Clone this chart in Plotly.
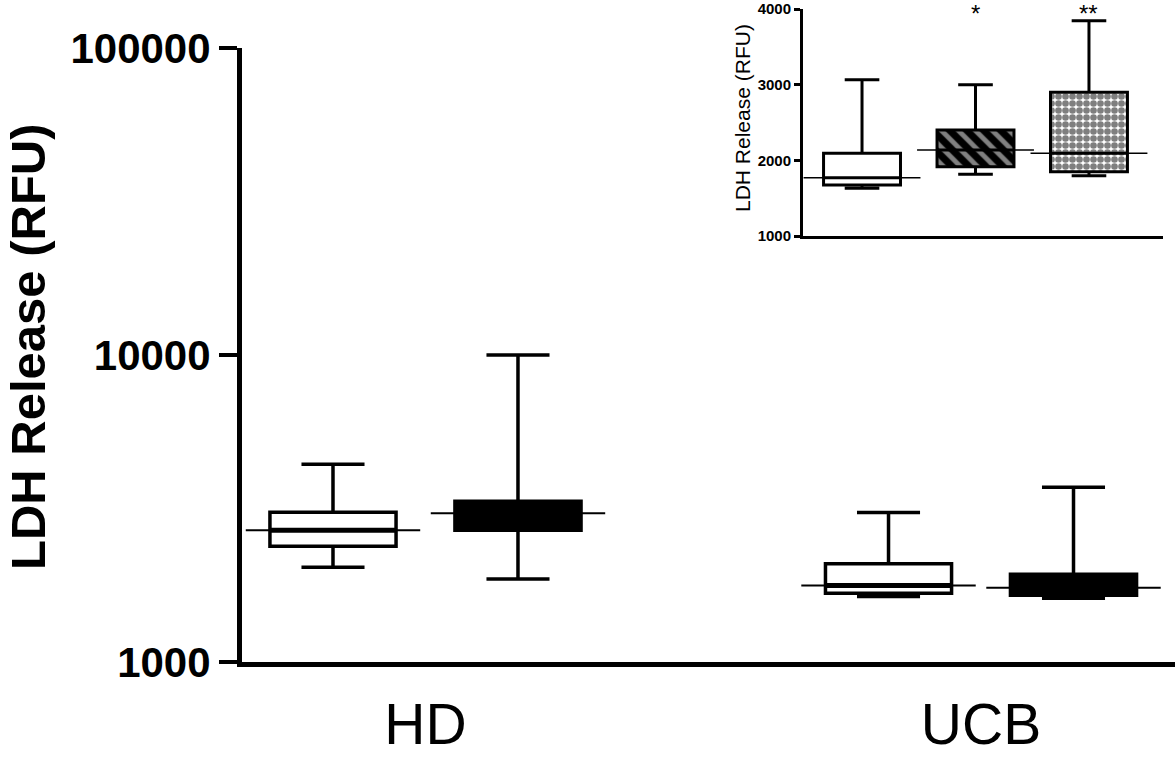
import plotly.graph_objects as go

# ---------------- data ----------------
groups = ["HD", "UCB"]

white_upper = [4405, 3070]
white_q3 = [3074, 2090]
white_median = [2688, 1775]
white_q1 = [2384, 1675]
white_lower = [2037, 1635]

black_upper = [10000, 3708]
black_q3 = [3339, 1933]
black_median = [3052, 1745]
black_q1 = [2688, 1650]
black_lower = [1862, 1612]

main_tickvals = [1000, 10000, 100000]
main_ticktext = ["1000", "10000", "100000"]
y_title = "LDH Release (RFU)"

inset_upper = [3065, 3000, 3846]
inset_q3 = [2093, 2401, 2899]
inset_median = [1771, 2137, 2093]
inset_q1 = [1674, 1916, 1850]
inset_lower = [1630, 1815, 1797]
inset_stars = ["", "*", "**"]
inset_tickvals = [1000, 2000, 3000, 4000]

# ---------------- layout constants ----------------
FONT = "Liberation Sans, Arial, sans-serif"
offset = 0.1665
box_w = 0.227
thin_half = 0.157
inset_box_w = 0.678
inset_thin_half = 0.515

fig = go.Figure()

main_series = [
    (white_upper, white_q3, white_median, white_q1, white_lower, "white", -offset),
    (black_upper, black_q3, black_median, black_q1, black_lower, "black", offset),
]

for up, q3, med, q1, lo, fill, off in main_series:
    xs = [i + off for i in range(len(groups))]
    fig.add_trace(go.Box(
        x=xs, q1=q1, median=med, q3=q3, lowerfence=lo, upperfence=up,
        width=box_w, whiskerwidth=0.5, fillcolor=fill,
        line=dict(color="black", width=3.5), boxpoints=False,
        xaxis="x", yaxis="y", hoverinfo="skip"))
    mx, my = [], []
    tx, ty = [], []
    for x, m in zip(xs, med):
        mx += [x - box_w / 2, x + box_w / 2, None]
        my += [m, m, None]
        tx += [x - thin_half, x + thin_half, None]
        ty += [m, m, None]
    fig.add_trace(go.Scatter(x=mx, y=my, mode="lines",
                             line=dict(color="black", width=5),
                             xaxis="x", yaxis="y", hoverinfo="skip"))
    fig.add_trace(go.Scatter(x=tx, y=ty, mode="lines",
                             line=dict(color="black", width=2),
                             xaxis="x", yaxis="y", hoverinfo="skip"))

# ---------------- inset ----------------
inset_fills = ["white", "rgba(0,0,0,0)", "rgba(0,0,0,0)"]
inset_patterns = [
    None,
    dict(shape="\\", fgcolor="white", bgcolor="black", size=12, solidity=0.4),
    dict(shape=".", fgcolor="black", bgcolor="white", size=7, solidity=0.7),
]

for i in range(len(inset_q1)):
    if inset_patterns[i] is not None:
        fig.add_trace(go.Bar(
            x=[i], base=[inset_q1[i]], y=[inset_q3[i] - inset_q1[i]],
            width=inset_box_w,
            marker=dict(color="black", line=dict(width=0),
                        pattern=inset_patterns[i]),
            xaxis="x2", yaxis="y2", hoverinfo="skip"))

for i in range(len(inset_q1)):
    fig.add_trace(go.Box(
        x=[i], q1=[inset_q1[i]], median=[inset_median[i]], q3=[inset_q3[i]],
        lowerfence=[inset_lower[i]], upperfence=[inset_upper[i]],
        width=inset_box_w, whiskerwidth=0.45, fillcolor=inset_fills[i],
        line=dict(color="black", width=3), boxpoints=False,
        xaxis="x2", yaxis="y2", hoverinfo="skip"))

tx, ty = [], []
for i, m in enumerate(inset_median):
    tx += [i - inset_thin_half, i + inset_thin_half, None]
    ty += [m, m, None]
fig.add_trace(go.Scatter(x=tx, y=ty, mode="lines",
                         line=dict(color="black", width=1.5),
                         xaxis="x2", yaxis="y2", hoverinfo="skip"))

annotations = []
for i, s in enumerate(inset_stars):
    if s:
        annotations.append(dict(x=i, y=3940, xref="x2", yref="y2", text=s,
                                showarrow=False, xanchor="center", yanchor="middle",
                                font=dict(family=FONT, size=24, color="black")))

annotations.append(dict(x=-0.2294, y=0.4773, xref="paper", yref="paper",
                        text=y_title, textangle=-90, showarrow=False,
                        xanchor="center", yanchor="middle",
                        font=dict(family=FONT, size=49, color="black", weight="bold")))
annotations.append(dict(x=0.537, y=0.8218, xref="paper", yref="paper",
                        text=y_title, textangle=-90, showarrow=False,
                        xanchor="center", yanchor="middle",
                        font=dict(family=FONT, size=21, color="black")))

fig.update_layout(
    width=1175, height=762,
    margin=dict(l=242, r=0, t=0, b=100, autoexpand=False),
    paper_bgcolor="white", plot_bgcolor="rgba(0,0,0,0)",
    showlegend=False, barmode="overlay", boxmode="overlay",
    annotations=annotations,
    xaxis=dict(domain=[0, 1], range=[-0.3303, 1.3492], automargin=False,
               tickvals=list(range(len(groups))), ticktext=groups,
               ticks="", showline=True, linewidth=5, linecolor="black",
               showgrid=False, zeroline=False, ticklabelstandoff=9,
               tickfont=dict(family=FONT, size=57, color="black")),
    yaxis=dict(domain=[0, 0.9275], type="log", range=[3, 5], automargin=False,
               tickvals=main_tickvals, ticktext=main_ticktext,
               ticks="outside", ticklen=18, tickwidth=4, tickcolor="black",
               showline=True, linewidth=5, linecolor="black",
               showgrid=False, zeroline=False,
               tickfont=dict(family=FONT, size=42, color="black", weight="bold")),
    xaxis2=dict(domain=[0.6013, 0.9871], anchor="y2", range=[-0.52, 2.652],
                automargin=False,
                showticklabels=False, ticks="", showline=True, linewidth=3,
                linecolor="black", showgrid=False, zeroline=False),
    yaxis2=dict(domain=[0.6435, 0.9864], anchor="x2", range=[1000, 4000],
                automargin=False,
                tickvals=inset_tickvals, ticks="outside", ticklen=6, tickwidth=2.5,
                tickcolor="black", showline=True, linewidth=3, linecolor="black",
                showgrid=False, zeroline=False,
                tickfont=dict(family=FONT, size=15, color="black", weight="bold")),
)

fig.write_html("out.html",
               config={"displayModeBar": False},
               post_script="document.body.style.margin='0';")
